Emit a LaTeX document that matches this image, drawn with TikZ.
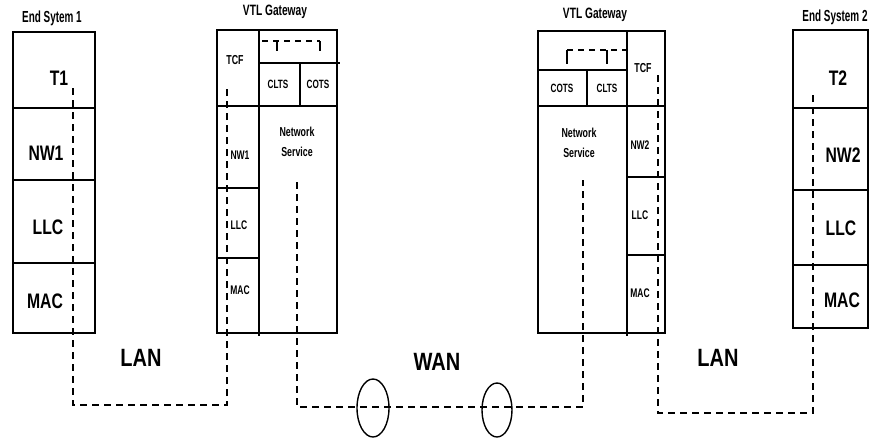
\documentclass[tikz,border=0pt]{standalone}
\usepackage{fontspec}
\setmainfont{Liberation Sans}
\newfontfamily\fbig[FakeStretch=0.8]{Liberation Sans}
\newfontfamily\flayer[FakeStretch=0.75]{Liberation Sans}
\newfontfamily\fgw[FakeStretch=0.68]{Liberation Sans}
\newfontfamily\fsys[FakeStretch=0.62]{Liberation Sans}
\usetikzlibrary{shapes.geometric}
\newcommand\layerbox[6][]{\node[layerstyle,#1,minimum width=#5pt,minimum height=#6pt] (#2) at (#3,#4) {};}
\begin{document}
\begin{tikzpicture}[x=1pt,y=-1pt,
  layerstyle/.style={draw, line width=2.4pt, anchor=north west, inner sep=0pt, outer sep=0pt},
  gw/.style={line width=1.3pt},
  lbl/.style={font={\flayer\bfseries\fontsize{21}{24}\selectfont}, inner sep=0pt},
  glbl/.style={font={\fgw\bfseries\fontsize{13}{15}\selectfont}, inner sep=0pt, align=center},
  slbl/.style={font={\fgw\bfseries\fontsize{12.5}{14}\selectfont}, inner sep=0pt},
  title/.style={font={\fsys\bfseries\fontsize{16}{18}\selectfont}, inner sep=0pt},
  net/.style={font={\fbig\bfseries\fontsize{25}{28}\selectfont}, inner sep=0pt},
  link/.style={line width=1.5pt, dash pattern=on 7pt off 5pt},
  bracket/.style={line width=1.3pt, dash pattern=on 6pt off 5pt},
  tick/.style={line width=1.3pt},
  sep/.style={line width=2.4pt},
  ring/.style={draw, ellipse, line width=1.4pt, inner sep=0pt}
]
\useasboundingbox (0,0) rectangle (870,437);
\clip (0,0) rectangle (870,437);

% ---------- End System 1
\layerbox{t1}{13}{32}{82}{76}
\layerbox{nwa}{13}{108}{82}{72}
\layerbox{llca}{13}{180}{82}{83}
\layerbox{maca}{13}{263}{82}{70}
\node[title] (es1) at (52,18) {End Sytem 1};
\node[lbl] (t1l) at (59,78) {T1};
\node[lbl] (nwal) at (46,153) {NW1};
\node[lbl] (llcal) at (48,227) {LLC};
\node[lbl] (macal) at (45,301) {MAC};

% ---------- VTL Gateway 1
\layerbox[gw]{tcfA}{217}{30}{42}{76}
\layerbox[gw]{upA}{259}{30}{78}{33}
\layerbox[gw]{cltsA}{259}{63}{41}{43}
\layerbox[gw]{cotsA}{300}{63}{37}{43}
\layerbox[gw]{nwA}{217}{106}{42}{82}
\layerbox[gw]{llcA}{217}{188}{42}{70}
\layerbox[gw]{macA}{217}{258}{42}{75}
\layerbox[gw]{nsA}{259}{106}{78}{227}
\draw[sep] (nsA.north west) -- ([yshift=-3pt]nsA.south west);
\draw[gw] (upA.south east) -- ++(3,0);
\node[glbl, font={\fgw\bfseries\fontsize{15}{17}\selectfont}] (gw1) at (275,12) {VTL Gateway};
\node[glbl] (tcfAl) at (235,60) {TCF};
\node[glbl, font={\fgw\bfseries\fontsize{12}{14}\selectfont}] (cltsAl) at (278,84) {CLTS};
\node[glbl, font={\fgw\bfseries\fontsize{12}{14}\selectfont}] (cotsAl) at (318,84) {COTS};
\node[slbl] (nwAl) at (240,155) {NW1};
\node[slbl] (llcAl) at (239,225) {LLC};
\node[slbl] (macAl) at (240,290) {MAC};
\node[glbl, font={\fgw\bfseries\fontsize{13}{20}\selectfont}] (nsAl) at (297,142) {Network\\Service};
\coordinate (bA0) at (262,41);
\coordinate (bA1) at (277,41);
\coordinate (bA2) at (320,41);
\draw[bracket] (bA0) -- (bA2);
\draw[tick] (bA1) -- ++(0,10);
\draw[tick] (bA2) -- ++(0,10);

% ---------- VTL Gateway 2
\layerbox[gw]{upB}{538}{31}{89}{39}
\layerbox[gw]{cotsB}{538}{70}{49}{36}
\layerbox[gw]{cltsB}{587}{70}{40}{36}
\layerbox[gw]{tcfB}{627}{31}{38}{75}
\layerbox[gw]{nsB}{538}{106}{89}{227}
\layerbox[gw]{nwB}{627}{106}{38}{71}
\layerbox[gw]{llcB}{627}{177}{38}{78}
\layerbox[gw]{macB}{627}{255}{38}{78}
\draw[sep] (nsB.north east) -- ([yshift=-3pt]nsB.south east);
\node[glbl, font={\fgw\bfseries\fontsize{15}{17}\selectfont}] (gw2) at (595,15) {VTL Gateway};
\node[glbl] (tcfBl) at (643,68) {TCF};
\node[glbl, font={\fgw\bfseries\fontsize{12}{14}\selectfont}] (cotsBl) at (562,88) {COTS};
\node[glbl, font={\fgw\bfseries\fontsize{12}{14}\selectfont}] (cltsBl) at (607,88) {CLTS};
\node[slbl] (nwBl) at (640,145) {NW2};
\node[slbl] (llcBl) at (640,215) {LLC};
\node[slbl] (macBl) at (640,293) {MAC};
\node[glbl, font={\fgw\bfseries\fontsize{13}{20}\selectfont}] (nsBl) at (579,143) {Network\\Service};
\coordinate (bB0) at (567,50);
\coordinate (bB1) at (607,50);
\coordinate (bB2) at (627,50);
\draw[bracket] (bB0) -- (bB2);
\draw[tick] (bB0) -- ++(0,14);
\draw[tick] (bB1) -- ++(0,14);

% ---------- End System 2
\layerbox{t2}{793}{30}{75}{78}
\layerbox{nwb}{793}{108}{75}{82}
\layerbox{llcb}{793}{190}{75}{75}
\layerbox{macb}{793}{265}{75}{63}
\node[title] (es2) at (835,17) {End System 2};
\node[lbl] (t2l) at (838,78) {T2};
\node[lbl] (nwbl) at (843,155) {NW2};
\node[lbl] (llcbl) at (841,228) {LLC};
\node[lbl] (macbl) at (842,300) {MAC};

% ---------- networks
\node[net] (lan1) at (141,358) {LAN};
\node[net] (wan) at (437,362) {WAN};
\node[net] (lan2) at (718,358) {LAN};
\node[ring, minimum width=32pt, minimum height=58pt] (e1) at (373,408) {};
\node[ring, minimum width=30pt, minimum height=54pt] (e2) at (497,410) {};

% ---------- dashed paths
\coordinate (p1) at (73,88);
\coordinate (p2) at (73,405);
\coordinate (p3) at (227,405);
\coordinate (p4) at (227,85);
\draw[link] (p1) -- (p2) -- (p3) -- (p4);

\coordinate (w1) at (297,182);
\coordinate (w2) at (297,407);
\coordinate (w3) at (583,407);
\coordinate (w4) at (583,180);
\draw[link] (w1) -- (w2) -- (w3) -- (w4);

\coordinate (r1) at (658,75);
\coordinate (r2) at (658,413);
\coordinate (r3) at (813,413);
\coordinate (r4) at (813,95);
\draw[link] (r1) -- (r2) -- (r3) -- (r4);
\end{tikzpicture}
\end{document}
